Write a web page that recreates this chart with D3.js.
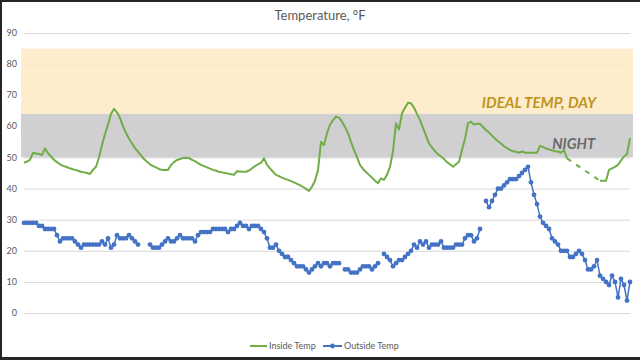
<!DOCTYPE html>
<html><head><meta charset="utf-8">
<script src="https://cdn.jsdelivr.net/npm/d3@7"></script>
<style>body{margin:0;background:#fff}svg{display:block;font-family:Lato,"Open Sans",sans-serif}</style>
</head><body><svg id="c" width="640" height="360"></svg>
<script>
const title = "Temperature, °F";
const yTicks = [0,10,20,30,40,50,60,70,80,90];
const seriesNames = ["Inside Temp","Outside Temp"];
const dayBand = [64,85];
const nightBand = [50,64];
const bandLabels = ["IDEAL TEMP, DAY","NIGHT"];
const insideTemp = [
48.3,48.7,49.2,51.5,51.3,51.1,50.8,52.9,51.4,50.3,
49.2,48.5,47.8,47.3,47.0,46.6,46.3,46.0,45.7,45.4,
45.2,45.0,44.7,46.0,47.0,50.0,54.0,57.5,60.5,64.0,
65.6,64.5,62.7,60.0,57.9,56.0,54.5,53.0,51.9,50.7,
49.5,48.6,47.8,47.2,46.8,46.3,46.0,46.0,46.0,47.6,
48.5,49.2,49.5,49.8,49.9,49.8,49.2,48.8,48.2,47.6,
47.2,46.8,46.4,46.0,45.7,45.4,45.2,45.0,44.8,44.6,
44.4,45.6,45.5,45.4,45.4,45.8,46.5,47.2,47.8,48.3,
49.7,47.6,46.5,45.4,44.4,44.0,43.5,43.1,42.8,42.4,
42.0,41.5,41.1,40.5,39.9,39.2,40.6,42.5,46.0,55.0,
54.0,57.8,60.5,62.0,63.1,62.8,61.5,59.8,57.8,55.0,
52.4,50.0,47.6,46.3,45.3,44.4,43.5,42.5,41.7,43.3,
42.8,44.4,47.0,52.0,61.0,59.0,64.2,66.0,67.6,67.4,
66.0,64.0,62.0,59.5,57.0,54.5,53.2,52.0,51.0,50.3,
49.5,48.5,47.8,47.0,47.8,48.6,52.4,56.0,61.0,61.5,
60.6,60.8,60.8,59.8,58.8,58.0,57.0,56.0,55.2,54.5,
53.6,53.0,52.4,52.0,51.8,51.5,51.9,51.6,51.5,51.5,
51.5,51.5,53.7,53.4,52.9,52.6,52.3,52.0,51.9,51.5,
52.4,49.7,null,null,null,null,null,null,null,null,
null,null,42.5,42.5,42.5,46.0,46.5,47.0,47.6,49.0,
50.3,51.1,56.2];
const outsideTemp = [
29,29,29,29,29,28,28,27,27,27,
27,25,23,24,24,24,24,23,22,21,
22,22,22,22,22,22,23,22,24,21,
22,25,24,24,24,25,24,23,22,null,
null,null,22,21,21,21,22,23,24,23,
23,24,25,24,24,24,24,23,25,26,
26,26,26,27,27,27,27,27,26,27,
27,28,29,28,28,27,28,28,28,27,
26,24,21,21,22,20,19,18,18,17,
16,15,15,15,14,13,14,15,16,15,
16,16,15,16,16,16,null,14,14,13,
13,13,14,15,15,15,14,15,16,null,
19,18,17,15,16,17,17,18,19,20,
22,21,23,22,23,21,22,22,22,23,
21,21,21,21,22,22,22,24,25,25,
23,24,27,null,36,34,36,38,40,40,
41,42,43,43,43,44,45,46,47,42,
38,35,31,29,28,27,24,23,22,20,
20,20,18,18,19,20,19,17,14,14,
15,17,12,11,10,9,12,10,5,11,
9,4,10];

const svg = d3.select("#c");
const N = insideTemp.length;
const x = d3.scaleLinear().domain([0, N-1]).range([24, 630]);
const y = d3.scaleLinear().domain([0, 90]).range([313, 33]);
const green = "#70AD47", blue = "#4472C4", txt = "#595959";

svg.append("rect").attr("width",640).attr("height",360).attr("fill","#fff");

// gridlines
svg.append("g").selectAll("line").data(yTicks).join("line")
  .attr("x1", x.range()[0]).attr("x2", x.range()[1])
  .attr("y1", d => y(d)+0.5).attr("y2", d => y(d)+0.5)
  .attr("stroke", "#d9d9d9").attr("stroke-width", 1);

// bands
const bx0 = x.range()[0]-3, bx1 = x.range()[1]+3;
svg.append("rect").attr("x", bx0).attr("width", bx1-bx0)
  .attr("y", y(dayBand[1])).attr("height", y(dayBand[0]) - y(dayBand[1]))
  .attr("fill", "#FDEAC4").attr("fill-opacity", 0.85);
svg.append("rect").attr("x", bx0).attr("width", bx1-bx0)
  .attr("y", y(nightBand[1])).attr("height", y(nightBand[0]) - y(nightBand[1]))
  .attr("fill", "#CAC8CB").attr("fill-opacity", 0.88);

// y labels
svg.append("g").selectAll("text").data(yTicks).join("text")
  .attr("x", 17).attr("y", d => y(d)).attr("dy", "0.35em")
  .attr("text-anchor", "end").attr("font-size", 9).attr("fill", txt)
  .text(d => d);

// title
svg.append("text").attr("x", 320).attr("y", 20).attr("text-anchor", "middle")
  .attr("font-size", 13).attr("fill", txt).text(title);

// band labels
svg.append("text").attr("x", 596).attr("y", y(dayBand[0]) - 6)
  .attr("text-anchor", "end").attr("font-size", 15).attr("font-weight", "bold")
  .attr("font-style", "italic").attr("fill", "#BF9420").text(bandLabels[0]);
svg.append("text").attr("x", 595).attr("y", y(nightBand[0]) - 8)
  .attr("text-anchor", "end").attr("font-size", 14.5).attr("font-weight", "bold")
  .attr("font-style", "italic").attr("fill", "#6a6a6a").text(bandLabels[1]);

// inside temp
const idx = d3.range(N);
const lineIn = d3.line().defined(i => insideTemp[i] != null)
  .x(i => x(i)).y(i => y(insideTemp[i]));
svg.append("path").attr("d", lineIn(idx)).attr("fill","none")
  .attr("stroke", green).attr("stroke-width", 2).attr("stroke-linejoin","round");
// dashed bridge over gaps
for (let i = 1; i < N; i++) {
  if (insideTemp[i] == null && insideTemp[i-1] != null) {
    let j = i; while (j < N && insideTemp[j] == null) j++;
    if (j < N) {
      svg.append("line").attr("x1", x(i-1)).attr("y1", y(insideTemp[i-1]))
        .attr("x2", x(j)).attr("y2", y(insideTemp[j]))
        .attr("stroke", green).attr("stroke-width", 2).attr("stroke-dasharray", "5,6");
    }
  }
}

// outside temp
const lineOut = d3.line().defined(i => outsideTemp[i] != null)
  .x(i => x(i)).y(i => y(outsideTemp[i]));
svg.append("path").attr("d", lineOut(idx)).attr("fill","none")
  .attr("stroke", blue).attr("stroke-width", 1.5);
svg.append("g").selectAll("circle").data(idx.filter(i => outsideTemp[i] != null)).join("circle")
  .attr("cx", i => x(i)).attr("cy", i => y(outsideTemp[i])).attr("r", 2.4)
  .attr("fill", blue);

// legend
const lg = svg.append("g").attr("font-size", 9).attr("fill", txt);
lg.append("line").attr("x1", 250).attr("x2", 267).attr("y1", 346).attr("y2", 346)
  .attr("stroke", green).attr("stroke-width", 2);
lg.append("text").attr("x", 269).attr("y", 346).attr("dy","0.35em").text(seriesNames[0]);
lg.append("line").attr("x1", 323).attr("x2", 342).attr("y1", 346).attr("y2", 346)
  .attr("stroke", blue).attr("stroke-width", 2);
lg.append("circle").attr("cx", 332.5).attr("cy", 346).attr("r", 2.4).attr("fill", blue);
lg.append("text").attr("x", 344).attr("y", 346).attr("dy","0.35em").text(seriesNames[1]);

// frame
svg.append("rect").attr("x",0).attr("y",0).attr("width",640).attr("height",2).attr("fill","#262626");
svg.append("rect").attr("x",0).attr("y",0).attr("width",2).attr("height",360).attr("fill","#262626");
svg.append("rect").attr("x",0).attr("y",357).attr("width",640).attr("height",3).attr("fill","#262626");
</script></body></html>
